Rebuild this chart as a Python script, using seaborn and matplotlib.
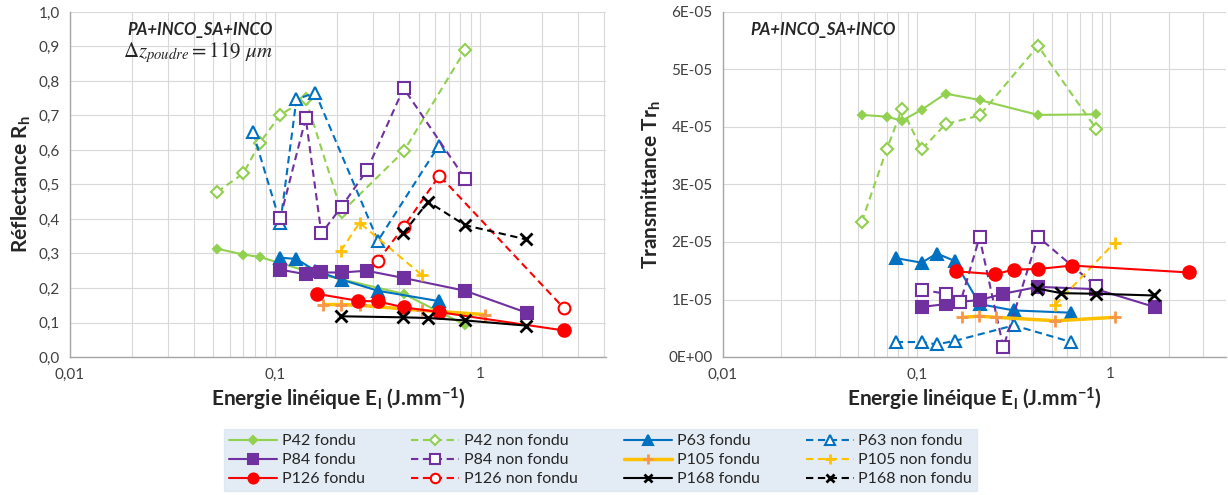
import numpy as np
import pandas as pd
import matplotlib
matplotlib.use("Agg")
import matplotlib.pyplot as plt
import seaborn as sns
from matplotlib.ticker import FuncFormatter, LogLocator, MultipleLocator

nan = np.nan

# Energie linéique (J.mm-1) pour chaque puissance
x42 = [0.052, 0.070, 0.084, 0.106, 0.141, 0.211, 0.423, 0.843]
x63 = [0.078, 0.106, 0.127, 0.157, 0.211, 0.317, 0.628]
x84 = [0.106, 0.141, 0.168, 0.211, 0.280, 0.423, 0.843, 1.69]
x105 = [0.172, 0.209, 0.258, 0.520, 1.05]
x126 = [0.160, 0.253, 0.317, 0.423, 0.632, 2.55]
x168 = [0.210, 0.420, 0.557, 0.843, 1.67]

# Réflectance Rh
R42_f = [0.314, 0.297, 0.290, 0.272, 0.250, 0.225, 0.183, 0.093]
R42_nf = [0.478, 0.532, 0.620, 0.702, 0.747, 0.420, 0.596, 0.889]
R63_f = [nan, 0.288, 0.284, 0.250, 0.224, 0.192, 0.162]
R63_nf = [0.651, 0.389, 0.747, 0.766, nan, 0.337, 0.613]
R84_f = [0.253, 0.240, 0.245, 0.245, 0.250, 0.229, 0.192, 0.128]
R84_nf = [0.404, 0.692, 0.358, 0.436, 0.541, 0.779, 0.517, nan]
R105_f = [0.152, 0.152, 0.150, 0.135, 0.123]
R105_nf = [nan, 0.308, 0.389, 0.237, nan]
R126_f = [0.183, 0.163, 0.161, 0.144, 0.130, 0.077]
R126_nf = [nan, nan, 0.279, 0.377, 0.526, 0.142]
R168_f = [0.118, 0.115, 0.113, 0.106, 0.091]
R168_nf = [nan, 0.358, 0.450, 0.382, 0.341]

# Transmittance Trh
T42_f = [4.21e-5, 4.18e-5, 4.11e-5, 4.30e-5, 4.58e-5, 4.47e-5, 4.21e-5, 4.22e-5]
T42_nf = [2.35e-5, 3.61e-5, 4.32e-5, 3.61e-5, 4.05e-5, 4.20e-5, 5.41e-5, 3.97e-5]
T63_f = [1.72e-5, 1.64e-5, 1.80e-5, 1.67e-5, 0.92e-5, 0.81e-5, 0.77e-5]
T63_nf = [0.26e-5, 0.26e-5, 0.22e-5, 0.28e-5, nan, 0.55e-5, 0.26e-5]
T84_f = [0.87e-5, 0.92e-5, 0.96e-5, 0.99e-5, 1.10e-5, 1.22e-5, 1.18e-5, 0.87e-5]
T84_nf = [1.17e-5, 1.10e-5, 0.95e-5, 2.08e-5, 0.17e-5, 2.09e-5, 1.23e-5, nan]
T105_f = [0.69e-5, 0.71e-5, 0.69e-5, 0.63e-5, 0.69e-5]
T105_nf = [nan, nan, nan, 0.91e-5, 1.99e-5]
T126_f = [1.49e-5, 1.44e-5, 1.52e-5, 1.53e-5, 1.59e-5, 1.47e-5]
T126_nf = [nan, nan, nan, nan, nan, nan]
T168_f = [nan, 1.19e-5, 1.11e-5, 1.10e-5, 1.07e-5]
T168_nf = [nan, nan, nan, nan, nan]

series = [
    ("P42 fondu", x42, R42_f, T42_f),
    ("P42 non fondu", x42, R42_nf, T42_nf),
    ("P63 fondu", x63, R63_f, T63_f),
    ("P63 non fondu", x63, R63_nf, T63_nf),
    ("P84 fondu", x84, R84_f, T84_f),
    ("P84 non fondu", x84, R84_nf, T84_nf),
    ("P105 fondu", x105, R105_f, T105_f),
    ("P105 non fondu", x105, R105_nf, T105_nf),
    ("P126 fondu", x126, R126_f, T126_f),
    ("P126 non fondu", x126, R126_nf, T126_nf),
    ("P168 fondu", x168, R168_f, T168_f),
    ("P168 non fondu", x168, R168_nf, T168_nf),
]

dash = (0, (3.5, 2.2))
styles = {
    "P42 fondu": dict(color="#92D050", marker="D", ms=4.5, mfc="#92D050", lw=1.5, ls="-"),
    "P42 non fondu": dict(color="#92D050", marker="D", ms=6.5, mfc="white", lw=1.5, ls=dash),
    "P63 fondu": dict(color="#0070C0", marker="^", ms=8.5, mfc="#0070C0", lw=1.5, ls="-"),
    "P63 non fondu": dict(color="#0070C0", marker="^", ms=8.5, mfc="white", lw=1.5, ls=dash),
    "P84 fondu": dict(color="#7030A0", marker="s", ms=8.5, mfc="#7030A0", lw=1.5, ls="-"),
    "P84 non fondu": dict(color="#7030A0", marker="s", ms=8.5, mfc="white", lw=1.5, ls=dash),
    "P105 fondu": dict(color="#FFC000", marker="+", ms=9, mfc="#F79646", mec="#F79646", lw=2.5, ls="-"),
    "P105 non fondu": dict(color="#FFC000", marker="+", ms=9, mfc="#FFC000", lw=1.5, ls=dash),
    "P126 fondu": dict(color="#FF0000", marker="o", ms=9, mfc="#FF0000", lw=1.5, ls="-"),
    "P126 non fondu": dict(color="#FF0000", marker="o", ms=8.5, mfc="white", lw=1.5, ls=dash),
    "P168 fondu": dict(color="black", marker="x", ms=8, mfc="black", lw=1.5, ls="-"),
    "P168 non fondu": dict(color="black", marker="x", ms=8, mfc="black", lw=1.5, ls=dash),
}

sns.set_style("white")
plt.rcParams["font.family"] = ["Lato", "DejaVu Sans"]
plt.rcParams["mathtext.fontset"] = "custom"
plt.rcParams["mathtext.rm"] = "Lato"
plt.rcParams["mathtext.it"] = "Lato:italic"
plt.rcParams["mathtext.bf"] = "Lato:bold"

fig = plt.figure(figsize=(12.28, 4.95), dpi=100)
ax1 = fig.add_axes([70 / 1228, 1 - 357 / 495, 536 / 1228, 345 / 495])
ax2 = fig.add_axes([723 / 1228, 1 - 357 / 495, 503 / 1228, 345 / 495])


def trace(ax, x, y, label, st):
    d = pd.DataFrame({"x": x, "y": y}).dropna()
    if d.empty:
        return
    mew = 2.0 if st["marker"] in ("x", "+") else 1.5
    sns.lineplot(data=d, x="x", y="y", ax=ax, label=label, errorbar=None, sort=False,
                 color=st["color"], linestyle=st["ls"], linewidth=st["lw"],
                 marker=st["marker"], markersize=st["ms"], markerfacecolor=st["mfc"],
                 markeredgecolor=st.get("mec", st["color"]), markeredgewidth=mew, zorder=3)


for name, x, r, t in series:
    trace(ax1, x, r, name, styles[name])
    trace(ax2, x, t, name, styles[name])

dec = FuncFormatter(lambda v, p: f"{v:g}".replace(".", ","))
for ax in (ax1, ax2):
    ax.set_xscale("log")
    ax.xaxis.set_major_locator(LogLocator(base=10, numticks=10))
    ax.xaxis.set_minor_locator(LogLocator(base=10, subs=np.arange(2, 10), numticks=20))
    ax.xaxis.set_major_formatter(dec)
    ax.xaxis.set_minor_formatter(FuncFormatter(lambda v, p: ""))
    ax.grid(True, which="both", axis="x", color="#D9D9D9", linewidth=0.8)
    ax.grid(True, which="major", axis="y", color="#D9D9D9", linewidth=0.8)
    ax.set_axisbelow(True)
    for s in ("top", "right"):
        ax.spines[s].set_visible(False)
    for s in ("left", "bottom"):
        ax.spines[s].set_color("#A6A6A6")
        ax.spines[s].set_linewidth(1.0)
    ax.tick_params(which="major", length=4, color="#A6A6A6", labelsize=11, labelcolor="#404040")
    ax.tick_params(which="minor", length=0)
    ax.set_xlabel("Energie linéique E$_\\mathbf{l}$ (J.mm$^\\mathbf{-1}$)", fontsize=15,
                  fontweight="bold", labelpad=3)
    if ax.get_legend() is not None:
        ax.get_legend().remove()

ax1.set_xlim(0.01, 4.1)
ax2.set_xlim(0.01, 3.95)
ax1.set_ylim(0, 1.0)
ax1.yaxis.set_major_locator(MultipleLocator(0.1))
ax1.yaxis.set_major_formatter(FuncFormatter(lambda v, p: f"{v:.1f}".replace(".", ",")))
ax2.set_ylim(0, 6e-5)
ax2.yaxis.set_major_locator(MultipleLocator(1e-5))
ax2.yaxis.set_major_formatter(FuncFormatter(lambda v, p: format(round(v, 10), ".0E")))

ax1.set_ylabel("Réflectance R$_\\mathbf{h}$", fontsize=15, fontweight="bold", labelpad=4)
ax2.set_ylabel("Transmittance Tr$_\\mathbf{h}$", fontsize=15, fontweight="bold", labelpad=4)

ax1.text(0.379, 0.948, "PA+INCO_SA+INCO", transform=ax1.transAxes, ha="right", va="center",
         fontsize=12, fontweight="bold", style="italic")
ax1.text(0.379, 0.882, r"$\Delta z_{poudre} = 119\ \mu m$", transform=ax1.transAxes,
         ha="right", va="center", fontsize=15, math_fontfamily="stix")
ax2.text(0.344, 0.948, "PA+INCO_SA+INCO", transform=ax2.transAxes, ha="right", va="center",
         fontsize=12, fontweight="bold", style="italic")

# légende commune, remplie ligne par ligne comme dans Excel
handles, labels = ax1.get_legend_handles_labels()
order = [0, 4, 8, 1, 5, 9, 2, 6, 10, 3, 7, 11]
leg = fig.legend([handles[i] for i in order], [labels[i] for i in order],
                 loc="lower left", bbox_to_anchor=(224 / 1228, 4 / 495, 753 / 1228, 62 / 495),
                 mode="expand", ncol=4, fontsize=11.5, frameon=True, fancybox=False,
                 handlelength=3, handletextpad=0.3, borderaxespad=0, labelspacing=0.3,
                 borderpad=0.3, markerscale=0.8)
leg.get_frame().set_facecolor("#DCE6F2")
leg.get_frame().set_edgecolor("#DCE6F2")

fig.savefig("out.png", dpi=100)
